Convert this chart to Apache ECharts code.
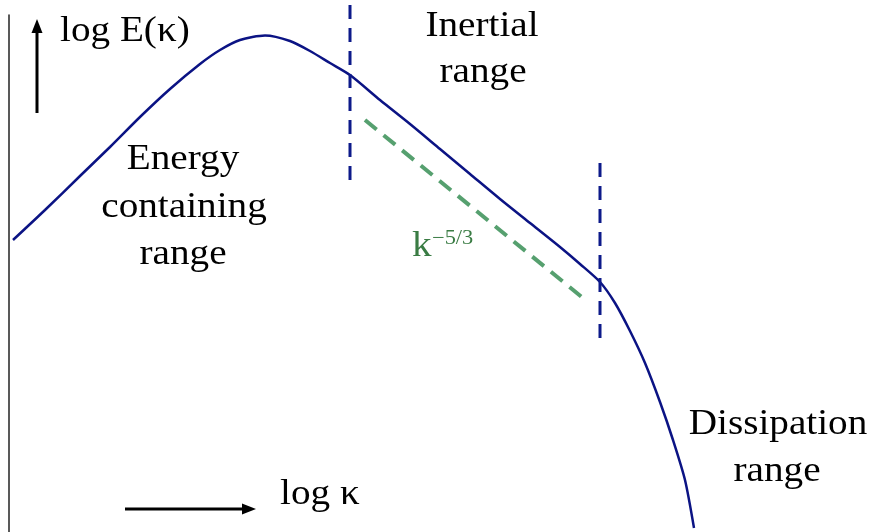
<!DOCTYPE html>
<html>
<head>
<meta charset="utf-8">
<script src="https://cdn.jsdelivr.net/npm/echarts@6/dist/echarts.min.js"></script>
<style>
  html, body { margin: 0; padding: 0; background: #fff; }
  #chart { width: 870px; height: 532px; }
</style>
</head>
<body>
<div id="chart"></div>
<script>
// Turbulent energy spectrum, schematic: log E(κ) against log κ (arbitrary units)
const logK = [0.13, 0.45, 0.80, 1.10, 1.40, 1.70, 2.00, 2.20, 2.40, 2.65, 2.90, 3.10, 3.30, 3.50, 3.80, 4.10, 4.40, 4.70, 5.00, 5.30, 5.60, 5.80, 6.00, 6.15, 6.30, 6.45, 6.60, 6.73, 6.85, 6.94];
const logE = [2.92, 3.22, 3.56, 3.85, 4.15, 4.43, 4.68, 4.82, 4.92, 4.965, 4.91, 4.81, 4.69, 4.57, 4.32, 4.08, 3.83, 3.58, 3.33, 3.09, 2.85, 2.68, 2.50, 2.29, 2.01, 1.69, 1.30, 0.92, 0.52, 0.04];

// Boundaries of the inertial range (log κ) and the vertical extent of each marker
const boundaryK = [3.50, 6.00];
const boundaryTop = [5.27, 3.69];
const boundaryBottom = [3.47, 1.92];

// Reference slope κ^(-5/3)
const slopeK = [3.65, 5.83];
const slopeE = [4.12, 2.34];

const curveColor = '#0b1384';
const serif = "'Liberation Serif', 'Times New Roman', serif";

const chart = echarts.init(document.getElementById('chart'));

const series = [
  {
    type: 'line',
    name: 'E(κ)',
    data: logK.map((k, i) => [k, logE[i]]),
    smooth: 0.25,
    showSymbol: false,
    clip: false,
    lineStyle: { color: curveColor, width: 2.5 }
  },
  {
    type: 'line',
    name: 'slope',
    data: slopeK.map((k, i) => [k, slopeE[i]]),
    showSymbol: false,
    clip: false,
    lineStyle: { color: '#56a06f', width: 4, type: [15, 9] }
  }
];

boundaryK.forEach((k, i) => {
  series.push({
    type: 'line',
    name: 'boundary' + i,
    data: [[k, boundaryTop[i]], [k, boundaryBottom[i]]],
    showSymbol: false,
    clip: false,
    lineStyle: { color: '#0d1a8a', width: 3, type: [14, 9] }
  });
});

// Text placed by its baseline; glyphs are widened slightly for the serif face
const txt = (text, x, baseline, size, align, color) => ({
  type: 'text',
  x: x,
  y: baseline - Math.round(size * 0.8),
  scaleX: 1.12,
  silent: true,
  style: {
    text: text,
    x: 0,
    y: 0,
    font: size + 'px ' + serif,
    fill: color || '#000',
    align: align || 'center',
    verticalAlign: 'top'
  }
});

chart.setOption({
  animation: false,
  backgroundColor: '#fff',
  grid: { left: 9, right: 0, top: 15, bottom: 0 },
  xAxis: {
    type: 'value', min: 0.09, max: 8.70,
    axisLine: { show: false }, axisTick: { show: false },
    axisLabel: { show: false }, splitLine: { show: false }
  },
  yAxis: {
    type: 'value', min: 0, max: 5.17,
    axisLine: { show: true, lineStyle: { color: '#222', width: 1.5 } },
    axisTick: { show: false }, axisLabel: { show: false }, splitLine: { show: false }
  },
  series: series,
  graphic: [
    // vertical arrow beside the log E(κ) label
    { type: 'line', shape: { x1: 37, y1: 113, x2: 37, y2: 30 }, style: { stroke: '#000', lineWidth: 3 } },
    { type: 'polygon', shape: { points: [[37, 19], [31.5, 33], [42.5, 33]] }, style: { fill: '#000' } },
    // horizontal arrow beside the log κ label
    { type: 'line', shape: { x1: 125, y1: 509, x2: 245, y2: 509 }, style: { stroke: '#000', lineWidth: 3 } },
    { type: 'polygon', shape: { points: [[256, 509], [242, 503.5], [242, 514.5]] }, style: { fill: '#000' } },

    txt('log E(κ)', 60, 42, 35, 'left'),
    txt('log κ', 280, 505, 35, 'left'),
    txt('Inertial', 482, 37, 35),
    txt('range', 483, 83, 35),
    txt('Energy', 183, 170, 35),
    txt('containing', 184, 218, 35),
    txt('range', 183, 265, 35),
    txt('Dissipation', 778, 435, 35),
    txt('range', 777, 482, 35),
    txt('k', 412, 257, 35, 'left', '#3a7c44'),
    txt('−5/3', 432, 245, 20, 'left', '#3a7c44')
  ]
});
</script>
</body>
</html>
